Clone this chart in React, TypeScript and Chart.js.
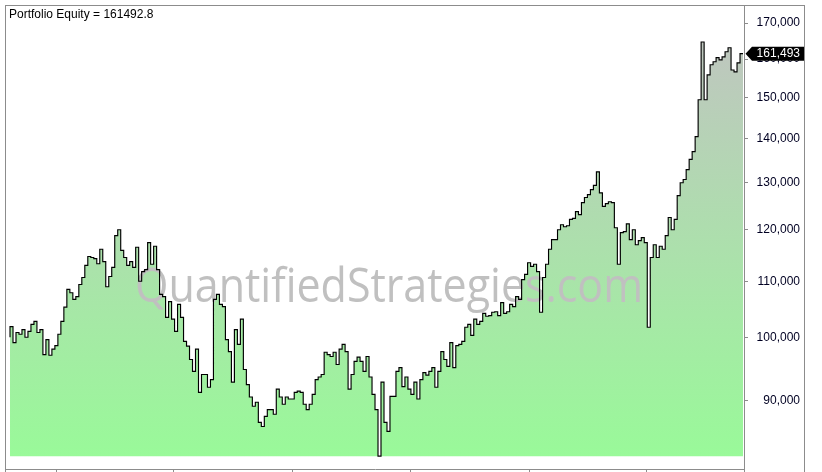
import React, { useEffect, useRef } from "react";
import { Chart, registerables } from "chart.js";

Chart.register(...registerables);

const titleLabel = "Portfolio Equity";
const watermarkText = "QuantifiedStrategies.com";
const finalEquity = 161492.8;

const equityA = [
  100100, 101900, 99200, 100900, 100600, 101400, 100100, 101100, 102300, 102800,
  100900, 101400, 97200, 99700, 97100, 98100, 98700, 100600, 102800, 105300,
  108500, 107900, 106700, 107200, 109400, 110700, 113000, 114700, 114500, 114300,
  113300, 116100, 113700, 109000, 110900, 112600, 118800, 120000, 115900, 114500,
  113000, 113700, 112600, 116500, 110000, 111800, 112200, 117400, 113200, 116700,
  112200, 107600, 107200, 103500, 106300, 103200, 101100, 105800, 103500, 99400,
  98600, 96400,
];

const equityB = [
  94500, 98100, 91200, 94000, 94000, 92000, 93200, 106700, 107600, 105800,
  105400, 99700, 97700, 92800, 101400, 98900, 103200, 94800, 92400, 90500,
  89100, 89700, 86700, 86100, 87600, 88600, 88600, 87900, 91700, 90500,
  89400, 90500, 90200, 90200, 91200, 91400, 91200, 89400, 88600, 89400,
  90900, 93200, 93600, 94000, 97600, 97200, 96900, 97600, 95600, 98100,
  98900, 97700, 91700, 94000, 96100, 96800, 96100, 94500, 96900,
];

const equityC = [
  93600, 90900, 88600, 81900, 92800, 86700, 85400, 90600, 90600, 94500,
  95100, 92100, 93600, 91700, 90900, 92800, 90200, 93200, 94300, 93900,
  94500, 95100, 92000, 94500, 97700, 96400, 95300, 99200, 95100, 98700,
  98900, 99400, 101800, 102300, 100400, 103200, 102300, 102800, 104200, 103700,
  103800, 104400, 104500, 103800, 106100, 104200, 104500, 105800, 105400, 107200,
  106700, 110300, 111300, 113500, 112800, 113200, 111800, 104400, 110700, 113200,
  116100,
];

const equityD = [
  118000, 118000, 120000, 121000, 120600, 120800, 122100, 122300, 123700, 123100,
  125600, 126700, 127300, 128400, 129300, 132300, 127700, 124800, 125400, 125800,
  125600, 120400, 113200, 119400, 119600, 121200, 118000, 120000, 117000, 117800,
  118400, 117400, 101800, 114500, 117000, 114500, 116700, 116100, 118800, 122500,
  120000, 122100, 127100, 129900, 130600, 132800, 135100, 136900, 140400, 149400,
  164700, 149400, 155800, 158500, 159300, 160400, 159800, 160600, 162000, 163100,
  157100, 156600, 159000,
];

const yTickValues = [90000, 100000, 110000, 120000, 130000, 140000, 150000, 160000, 170000];
const xTickIndex = [15.7, 54.8, 94.3, 134, 173.5, 212.9];

const equity = [...equityA, ...equityB, ...equityC, ...equityD, finalEquity];
const minEquity = Math.min(...equity);

const FRAME = "#8c8c8c";

const framePlugin = {
  id: "framePlugin",
  beforeDatasetDraw(chart: any) {
    const { ctx, chartArea } = chart;
    ctx.save();
    ctx.beginPath();
    ctx.rect(chartArea.left, chartArea.top, chartArea.right - chartArea.left, chartArea.bottom - chartArea.top);
    ctx.clip();
    ctx.font = '48px "Open Sans"';
    const w = ctx.measureText(watermarkText).width;
    ctx.translate(389, 302);
    ctx.scale(508 / w, 1);
    ctx.fillStyle = "#c0c0c0";
    ctx.textAlign = "center";
    ctx.textBaseline = "alphabetic";
    ctx.fillText(watermarkText, 0, 0);
    ctx.restore();
  },
  afterDraw(chart: any) {
    const { ctx, chartArea, height } = chart;
    const yScale = chart.scales.y;
    ctx.save();
    ctx.strokeStyle = FRAME;
    ctx.lineWidth = 1;
    ctx.beginPath();
    ctx.moveTo(5, 5.5);
    ctx.lineTo(805, 5.5);
    ctx.moveTo(5.5, 5);
    ctx.lineTo(5.5, height);
    ctx.moveTo(804.5, 5);
    ctx.lineTo(804.5, height);
    ctx.moveTo(chartArea.right + 0.5, chartArea.bottom);
    ctx.lineTo(chartArea.right + 0.5, height);
    ctx.stroke();

    // title
    ctx.fillStyle = "#000";
    ctx.font = '12px "Liberation Sans", Arial, sans-serif';
    ctx.textAlign = "left";
    ctx.textBaseline = "alphabetic";
    ctx.fillText(`${titleLabel} = ${finalEquity}`, 9, 18);

    // last value tag
    const y = yScale.getPixelForValue(finalEquity);
    const x0 = chartArea.right + 1.5;
    ctx.fillStyle = "#000";
    ctx.beginPath();
    ctx.moveTo(x0, y);
    ctx.lineTo(x0 + 6.5, y - 7);
    ctx.lineTo(804, y - 7);
    ctx.lineTo(804, y + 7);
    ctx.lineTo(x0 + 6.5, y + 7);
    ctx.closePath();
    ctx.fill();
    ctx.fillStyle = "#fff";
    ctx.textAlign = "right";
    ctx.textBaseline = "middle";
    ctx.fillText(Math.round(finalEquity).toLocaleString("en-US"), 800, y + 0.5);
    ctx.restore();
  },
};

export default function App() {
  const canvasRef = useRef<HTMLCanvasElement | null>(null);

  useEffect(() => {
    document.body.style.margin = "0";
    const canvas = canvasRef.current;
    if (!canvas) return;
    const chart = new Chart(canvas, {
      type: "line",
      data: {
        datasets: [
          {
            data: equity.map((v, i) => ({ x: i, y: v })),
            borderColor: "#000",
            borderWidth: 1.15,
            pointRadius: 0,
            stepped: "after",
            fill: { value: minEquity },
            backgroundColor: (c: any) => {
              const ch = c.chart;
              const area = ch.chartArea;
              if (!area) return "rgba(0,0,0,0)";
              const g = ch.ctx.createLinearGradient(0, area.top, 0, area.bottom);
              g.addColorStop(0, "#c2c2c2");
              g.addColorStop(1, "#98fb98");
              return g;
            },
          },
        ],
      },
      options: {
        responsive: false,
        animation: false,
        events: [],
        layout: { padding: { left: 6, top: 6, right: 22, bottom: 0 } },
        plugins: {
          legend: { display: false },
          tooltip: { enabled: false },
          title: { display: false },
        },
        scales: {
          x: {
            type: "linear",
            min: -1.34,
            max: 245.33,
            afterBuildTicks: (s: any) => {
              s.ticks = xTickIndex.map((v) => ({ value: v }));
            },
            afterFit: (s: any) => {
              s.height = 3;
              s.paddingLeft = 0;
              s.paddingRight = 0;
            },
            grid: { drawOnChartArea: false, drawTicks: true, tickLength: 6, color: FRAME },
            border: { display: true, color: FRAME },
            ticks: { display: false },
          },
          y: {
            type: "logarithmic",
            position: "right",
            min: 80150,
            max: 175000,
            afterBuildTicks: (s: any) => {
              s.ticks = yTickValues.map((v) => ({ value: v }));
            },
            afterFit: (s: any) => {
              s.width = 56;
              s.paddingTop = 0;
              s.paddingBottom = 0;
            },
            grid: { drawOnChartArea: false, drawTicks: true, tickLength: 4, color: FRAME },
            border: { display: true, color: FRAME },
            ticks: {
              autoSkip: false,
              crossAlign: "far",
              padding: 4,
              color: "#000022",
              font: { family: '"Liberation Sans", Arial, sans-serif', size: 12 },
              callback: (v: any) => Number(v).toLocaleString("en-US"),
            },
          },
        },
      } as any,
      plugins: [framePlugin],
    });
    return () => chart.destroy();
  }, []);

  return (
    <div style={{ width: 822, height: 472, background: "#fff" }}>
      <canvas ref={canvasRef} width={822} height={472} style={{ display: "block", width: 822, height: 472 }} />
    </div>
  );
}
